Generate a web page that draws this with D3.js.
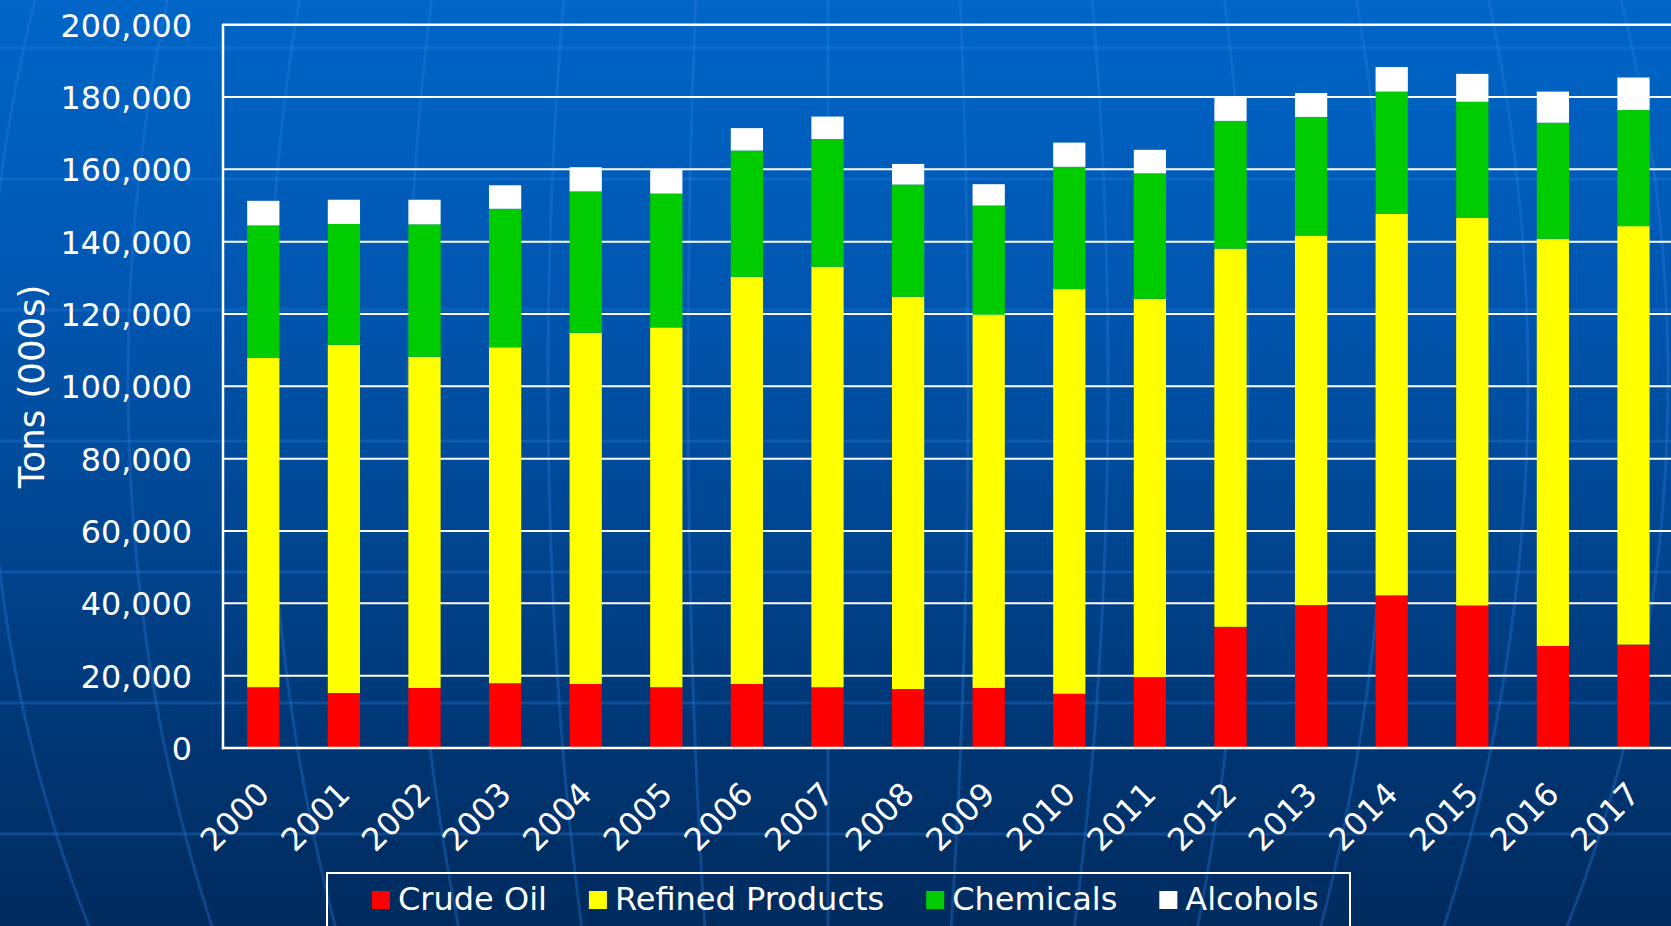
<!DOCTYPE html>
<html>
<head>
<meta charset="utf-8">
<script src="https://cdn.jsdelivr.net/npm/d3@7/dist/d3.min.js"></script>
<style>
  html, body { margin: 0; padding: 0; background: #003470; overflow: hidden; }
  svg { display: block; }
  text { font-family: "DejaVu Sans", Verdana, sans-serif; fill: #ffffff; }
</style>
</head>
<body>
<svg id="chart" width="1671" height="926"></svg>
<script>
// Annual tonnage by cargo type, thousands of tons
const years = ['2000','2001','2002','2003','2004','2005','2006','2007','2008',
               '2009','2010','2011','2012','2013','2014','2015','2016','2017'];
const crudeOil        = [16800,15200,16600,17900,17700,16800,17700,16800,16300,
                         16600,15000,19600,33500,39500,42200,39400,28200,28600];
const refinedProducts = [91100,96300,91600,92900,97100,99500,112600,116300,108500,
                         103200,111900,104600,104600,102200,105500,107200,112600,115700];
const chemicals       = [36600,33400,36600,38300,39100,37000,34900,35300,31000,
                         30200,33800,34700,35300,32800,33800,32100,32100,32100];
const alcohols        = [6800,6700,6800,6500,6700,6800,6200,6200,5700,
                         5900,6700,6500,6500,6600,6800,7700,8600,9000];
const seriesNames  = ['Crude Oil', 'Refined Products', 'Chemicals', 'Alcohols'];
const seriesColors = ['#ff0000', '#ffff00', '#00cc00', '#ffffff'];
const yTicks = [0, 20000, 40000, 60000, 80000, 100000, 120000, 140000, 160000, 180000, 200000];
const yTitle = 'Tons (000s)';

const W = 1671, H = 926;
const plot = { left: 223, right: 223 + 18 * 80.6, top: 24.7, bottom: 748 };
const FONT = 31.8;

const svg = d3.select('#chart');

// ---- backdrop: blue gradient with a faint globe grid ----
const defs = svg.append('defs');
const grad = defs.append('linearGradient')
  .attr('id', 'bg').attr('x1', 0).attr('y1', 0).attr('x2', 0).attr('y2', 1);
[[0, '#0066c8'], [0.3, '#0057b2'], [0.6, '#00448e'], [0.8, '#003674'], [1, '#002b5e']]
  .forEach(([o, c]) => grad.append('stop').attr('offset', o).attr('stop-color', c));
svg.append('rect').attr('width', W).attr('height', H).attr('fill', 'url(#bg)');

const globe = svg.append('g')
  .attr('fill', 'none')
  .attr('stroke', '#2a7ee0')
  .attr('stroke-opacity', 0.32)
  .attr('stroke-width', 3);
// parallels
d3.range(48, H, 131).forEach(yy => {
  globe.append('line').attr('x1', 0).attr('x2', W).attr('y1', yy).attr('y2', yy);
});
// meridians: half-ellipses of a large sphere centred near the middle of the page
const gcx = 828, gcy = 380, gR = 1150;
const meridian = d3.line().curve(d3.curveBasis);
d3.range(-7, 8).forEach(k => {
  const a = 140 * k;
  const pts = d3.range(-20, H + 40, 20).map(yy => {
    const t = (yy - gcy) / gR;
    return [gcx + a * Math.sqrt(Math.max(0, 1 - t * t)), yy];
  });
  globe.append('path').attr('d', meridian(pts));
});

// ---- scales ----
const x = d3.scaleBand()
  .domain(years)
  .range([plot.left, plot.right])
  .paddingInner(0.6)
  .paddingOuter(0.3);
const y = d3.scaleLinear().domain([0, 200000]).range([plot.bottom, plot.top]);

// ---- gridlines ----
svg.append('g')
  .selectAll('line')
  .data(yTicks.filter(d => d > 0))
  .join('line')
  .attr('x1', plot.left).attr('x2', W)
  .attr('y1', d => y(d)).attr('y2', d => y(d))
  .attr('stroke', '#ffffff')
  .attr('stroke-width', d => d === 200000 ? 2.5 : 2);

// ---- stacked bars ----
const rows = years.map((yr, i) => ({
  year: yr,
  'Crude Oil': crudeOil[i],
  'Refined Products': refinedProducts[i],
  'Chemicals': chemicals[i],
  'Alcohols': alcohols[i]
}));
const stacked = d3.stack().keys(seriesNames)(rows);
const color = d3.scaleOrdinal().domain(seriesNames).range(seriesColors);

svg.append('g')
  .selectAll('g')
  .data(stacked)
  .join('g')
  .attr('fill', d => color(d.key))
  .selectAll('rect')
  .data(d => d)
  .join('rect')
  .attr('x', d => x(d.data.year))
  .attr('width', x.bandwidth())
  .attr('y', d => y(d[1]))
  .attr('height', d => y(d[0]) - y(d[1]));

// ---- axis lines ----
svg.append('line')
  .attr('x1', plot.left).attr('x2', plot.left)
  .attr('y1', plot.top - 1).attr('y2', plot.bottom + 1.2)
  .attr('stroke', '#ffffff').attr('stroke-width', 2.5);
svg.append('line')
  .attr('x1', plot.left - 1.2).attr('x2', W)
  .attr('y1', plot.bottom).attr('y2', plot.bottom)
  .attr('stroke', '#ffffff').attr('stroke-width', 2.5);

// ---- y axis labels ----
const yAxis = svg.append('g')
  .attr('transform', `translate(${plot.left},0)`)
  .call(d3.axisLeft(y).tickValues(yTicks).tickFormat(d3.format(',')).tickSize(0).tickPadding(31));
yAxis.select('.domain').remove();
yAxis.selectAll('text')
  .attr('font-size', FONT)
  .attr('font-family', '"DejaVu Sans", Verdana, sans-serif')
  .attr('fill', '#ffffff')
  .attr('dy', '0.36em');

// ---- x axis labels ----
const xAxis = svg.append('g')
  .attr('transform', `translate(0,${plot.bottom})`)
  .call(d3.axisBottom(x).tickSize(0));
xAxis.select('.domain').remove();
xAxis.selectAll('text')
  .attr('font-size', FONT)
  .attr('font-family', '"DejaVu Sans", Verdana, sans-serif')
  .attr('fill', '#ffffff')
  .attr('text-anchor', 'end')
  .attr('x', 0).attr('y', 0).attr('dy', 0)
  .attr('transform', 'translate(8,48) rotate(-45)');

// ---- y axis title ----
svg.append('text')
  .attr('transform', `translate(44,${(plot.top + plot.bottom) / 2}) rotate(-90)`)
  .attr('text-anchor', 'middle')
  .attr('font-size', 35.5)
  .text(yTitle);

// ---- legend ----
const legend = svg.append('g');
legend.append('rect')
  .attr('x', 327).attr('y', 873)
  .attr('width', 1023).attr('height', 80)
  .attr('fill', 'none')
  .attr('stroke', '#ffffff').attr('stroke-width', 2);
let lx = 372;
seriesNames.forEach(name => {
  legend.append('rect')
    .attr('x', lx).attr('y', 891)
    .attr('width', 18).attr('height', 18)
    .attr('fill', color(name));
  const t = legend.append('text')
    .attr('x', lx + 26).attr('y', 910)
    .attr('font-size', 32)
    .text(name);
  lx += 26 + t.node().getComputedTextLength() + 42;
});
</script>
</body>
</html>
